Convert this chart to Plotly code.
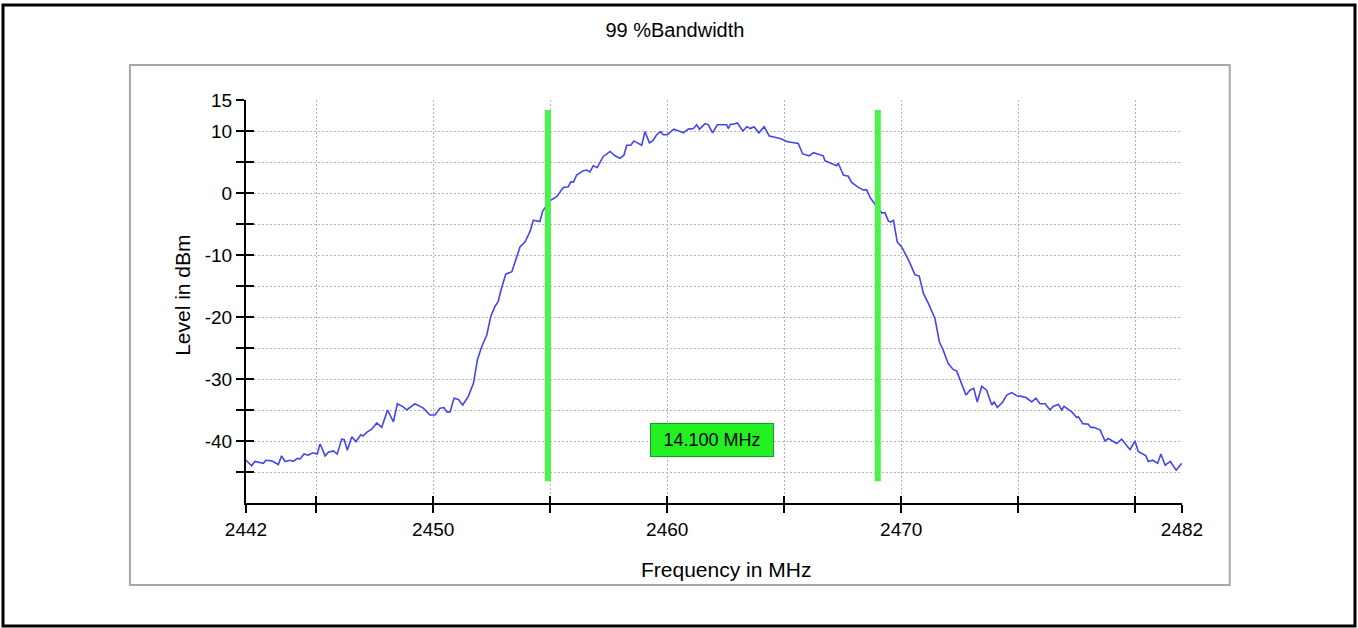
""" 99 % occupied bandwidth plot, spectrum analyser style """

import plotly.graph_objects as go

# spectrum trace
freq_mhz = [
    2442.0, 2442.24, 2442.38, 2442.74, 2442.85, 2443.1, 2443.38, 2443.52, 2443.67, 2443.88,
    2444.02, 2444.19, 2444.31, 2444.48, 2444.66, 2444.85, 2445.05, 2445.16, 2445.22, 2445.38,
    2445.52, 2445.73, 2445.9, 2446.09, 2446.2, 2446.33, 2446.52, 2446.7, 2446.9, 2447.0,
    2447.16, 2447.37, 2447.59, 2447.8, 2448.05, 2448.3, 2448.47, 2448.72, 2448.87, 2449.22,
    2449.58, 2449.86, 2450.08, 2450.29, 2450.46, 2450.58, 2450.72, 2450.89, 2451.08, 2451.26,
    2451.5, 2451.72, 2451.89, 2452.07, 2452.29, 2452.46, 2452.64, 2452.78, 2452.88, 2453.1,
    2453.36, 2453.71, 2453.92, 2454.14, 2454.28, 2454.56, 2454.68, 2455.0, 2455.28, 2455.56,
    2455.77, 2455.88, 2456.0, 2456.13, 2456.42, 2456.56, 2456.7, 2456.84, 2457.01, 2457.27,
    2457.56, 2457.77, 2457.98, 2458.15, 2458.27, 2458.44, 2458.58, 2458.91, 2459.05, 2459.24,
    2459.38, 2459.55, 2459.72, 2459.83, 2460.0, 2460.19, 2460.29, 2460.43, 2460.69, 2460.9,
    2461.12, 2461.26, 2461.38, 2461.62, 2461.76, 2461.94, 2462.14, 2462.54, 2462.61, 2462.71,
    2462.82, 2463.0, 2463.23, 2463.4, 2463.55, 2463.71, 2463.92, 2464.14, 2464.36, 2464.6,
    2464.89, 2465.11, 2465.6, 2465.79, 2466.07, 2466.25, 2466.67, 2466.74, 2467.1, 2467.24,
    2467.31, 2467.53, 2467.74, 2467.88, 2468.17, 2468.38, 2468.52, 2468.7, 2468.88, 2469.17,
    2469.31, 2469.45, 2469.55, 2469.67, 2469.83, 2470.02, 2470.35, 2470.59, 2470.77, 2470.95,
    2471.16, 2471.44, 2471.63, 2471.8, 2472.01, 2472.23, 2472.37, 2472.58, 2472.77, 2472.94,
    2473.1, 2473.25, 2473.44, 2473.65, 2473.87, 2473.97, 2474.11, 2474.34, 2474.51, 2474.72,
    2474.94, 2475.15, 2475.33, 2475.58, 2475.76, 2475.93, 2476.15, 2476.36, 2476.5, 2476.72,
    2476.86, 2476.96, 2477.29, 2477.5, 2477.57, 2477.76, 2478.0, 2478.1, 2478.21, 2478.5,
    2478.71, 2478.85, 2479.21, 2479.42, 2479.78, 2479.99, 2480.13, 2480.46, 2480.56, 2480.75,
    2480.96, 2481.1, 2481.28, 2481.5, 2481.75, 2481.99,
]
level_dbm = [
    -43.1, -44.0, -43.3, -43.6, -43.1, -43.2, -43.8, -42.4, -43.3, -43.1,
    -43.3, -42.8, -42.9, -42.1, -42.3, -41.9, -42.1, -40.5, -40.9, -42.4,
    -41.8, -41.6, -42.1, -39.7, -39.8, -41.5, -39.3, -40.1, -39.0, -39.2,
    -38.6, -38.1, -37.1, -37.8, -35.0, -36.9, -34.0, -34.5, -35.0, -34.0,
    -34.7, -35.8, -35.8, -34.7, -34.6, -35.3, -35.3, -33.1, -33.3, -34.2,
    -32.8, -30.7, -26.9, -24.8, -22.9, -19.9, -18.3, -17.5, -15.9, -13.1,
    -12.7, -8.7, -7.9, -6.2, -4.4, -4.6, -2.9, -1.2, -0.6, 0.9,
    1.0, 1.8, 1.8, 2.9, 3.6, 3.7, 3.4, 4.4, 4.1, 5.9,
    6.7, 6.0, 5.6, 6.1, 7.7, 7.7, 8.4, 7.7, 9.9, 8.1,
    8.4, 9.4, 9.9, 9.4, 9.4, 10.0, 10.3, 10.1, 9.7, 10.3,
    10.4, 11.0, 10.3, 11.2, 11.0, 9.7, 11.0, 11.0, 10.4, 11.1,
    11.1, 11.3, 10.0, 10.7, 10.4, 10.7, 9.7, 10.7, 9.2, 9.0,
    8.7, 8.3, 8.0, 6.3, 6.0, 6.5, 6.0, 5.2, 4.7, 4.4,
    4.8, 2.9, 2.7, 1.7, 0.9, 0.5, 0.5, -0.9, -1.8, -3.2,
    -3.2, -4.5, -4.7, -4.4, -7.9, -8.7, -11.1, -13.2, -13.4, -16.2,
    -17.8, -20.2, -24.0, -25.4, -27.5, -28.5, -28.7, -30.7, -32.6, -31.8,
    -31.5, -33.7, -31.2, -31.8, -34.2, -33.7, -34.6, -33.7, -32.6, -32.2,
    -32.7, -32.8, -33.0, -33.7, -33.1, -34.0, -34.0, -35.0, -34.4, -34.1,
    -35.0, -34.4, -35.3, -36.2, -36.1, -37.2, -37.3, -37.8, -37.8, -38.2,
    -40.0, -39.6, -40.4, -39.7, -41.4, -40.0, -41.7, -42.4, -43.3, -43.1,
    -43.6, -42.1, -43.9, -43.3, -44.7, -43.6,
]

# 99 % bandwidth markers
lower_edge = 2454.9
upper_edge = 2469.0
marker_top = 13.4
marker_bottom = -46.5
obw_text = "14.100 MHz"
obw_label_pos = (2461.9, -39.8)

x_tickvals = [2442, 2445, 2450, 2455, 2460, 2465, 2470, 2475, 2480, 2482]
x_ticktext = ["2442", "", "2450", "", "2460", "", "2470", "", "", "2482"]
y_tickvals = [-45, -40, -35, -30, -25, -20, -15, -10, -5, 0, 5, 10, 15]
y_ticktext = ["", "-40", "", "-30", "", "-20", "", "-10", "", "0", "", "10", "15"]

FONT = "Liberation Sans, Arial, sans-serif"

fig = go.Figure()

fig.add_trace(go.Scatter(
    x=freq_mhz, y=level_dbm,
    mode="lines",
    line=dict(color="#4545f0", width=1.6),
    hoverinfo="skip",
))

fig.add_trace(go.Scatter(
    x=[lower_edge, lower_edge, None, upper_edge, upper_edge],
    y=[marker_top, marker_bottom, None, marker_top, marker_bottom],
    mode="lines",
    line=dict(color="#4cf24c", width=6),
    hoverinfo="skip",
))

# invisible trace so the second (inside tick) axes get drawn
fig.add_trace(go.Scatter(
    x=[x_tickvals[0]], y=[y_tickvals[0]],
    xaxis="x2", yaxis="y2",
    mode="markers", marker=dict(opacity=0),
    hoverinfo="skip",
))

fig.add_annotation(
    x=obw_label_pos[0], y=obw_label_pos[1],
    text=obw_text,
    showarrow=False,
    font=dict(family=FONT, size=18, color="black"),
    bgcolor="#22f022",
    bordercolor="#14a014",
    borderwidth=1,
    width=120, height=30,
)

# axis titles
fig.add_annotation(
    xref="paper", yref="paper", x=0.513, y=-0.164,
    xanchor="center", yanchor="middle",
    text="Frequency in MHz", showarrow=False,
    font=dict(family=FONT, size=21, color="black"),
)
fig.add_annotation(
    xref="paper", yref="paper", x=-0.0673, y=0.514,
    xanchor="center", yanchor="middle",
    text="Level in dBm", showarrow=False, textangle=-90,
    font=dict(family=FONT, size=21, color="black"),
)

# gray panel and black outer frame
fig.add_shape(type="rect", xref="paper", yref="paper",
              x0=-0.124, x1=1.051, y0=-0.2035, y1=1.087,
              line=dict(color="#a8a8a8", width=2), layer="below")
fig.add_shape(type="rect", xref="paper", yref="paper",
              x0=-0.2596, x1=1.1848, y0=-0.305, y1=1.2357,
              line=dict(color="black", width=3), layer="below")

axis_common = dict(
    showline=True, linecolor="black", linewidth=2,
    tickcolor="black", tickwidth=2,
    zeroline=False,
    tickfont=dict(family=FONT, size=19, color="black"),
)

fig.update_layout(
    width=1358, height=628,
    margin=dict(l=246, r=176, t=100, b=125, pad=0),
    paper_bgcolor="white", plot_bgcolor="white",
    showlegend=False,
    title=dict(
        text="99 %Bandwidth",
        xref="container", yref="container", x=0.497, y=0.952,
        xanchor="center", yanchor="middle",
        font=dict(family=FONT, size=20, color="black"),
    ),
    xaxis=dict(
        range=[2442, 2482], tickvals=x_tickvals, ticktext=x_ticktext,
        ticks="outside", ticklen=8,
        showgrid=True, gridcolor="#b4b4b4", griddash="2px,2px", gridwidth=1,
        **axis_common,
    ),
    yaxis=dict(
        range=[-50, 15], tickvals=y_tickvals, ticktext=y_ticktext,
        ticks="outside", ticklen=8,
        showgrid=True, gridcolor="#b4b4b4", griddash="2px,2px", gridwidth=1,
        **axis_common,
    ),
    xaxis2=dict(
        range=[2442, 2482], tickvals=x_tickvals, overlaying="x",
        ticks="inside", ticklen=7, showticklabels=False, showgrid=False,
        **axis_common,
    ),
    yaxis2=dict(
        range=[-50, 15], tickvals=y_tickvals, overlaying="y",
        ticks="inside", ticklen=8, showticklabels=False, showgrid=False,
        **axis_common,
    ),
)

# drop the browser's default body margin so the figure sits at the page origin
fig.write_html(
    "out.html",
    config={"displayModeBar": False},
    post_script="document.body.style.margin = '0';",
)
